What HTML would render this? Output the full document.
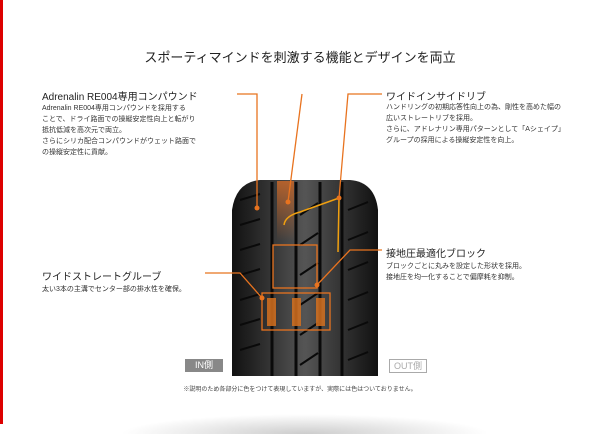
<!DOCTYPE html>
<html><head><meta charset="utf-8"><style>
body{margin:0;width:600px;height:424px;background:#fff;position:relative;overflow:hidden;font-family:"Liberation Sans","Noto Sans CJK JP",sans-serif;color:#333}
.t{position:absolute;white-space:nowrap}
h1{position:absolute;left:0;width:600px;top:47px;margin:0;text-align:center;font-size:13px;font-weight:normal;color:#222}
.hd{font-size:10px;color:#222}
.bd{font-size:7px;line-height:11px;color:#333}
</style></head><body>
<div style="position:absolute;left:0;top:0;width:3px;height:424px;background:#d00"></div>
<h1>スポーティマインドを刺激する機能とデザインを両立</h1>
<div class="t hd" style="left:42px;top:88px">Adrenalin RE004専用コンパウンド</div>
<div class="t bd" style="left:42px;top:103px">Adrenalin RE004専用コンパウンドを採用する<br>ことで、ドライ路面での操縦安定性向上と転がり<br>抵抗低減を高次元で両立。<br>さらにシリカ配合コンパウンドがウェット路面で<br>の操縦安定性に貢献。</div>
<div class="t hd" style="left:386px;top:88px">ワイドインサイドリブ</div>
<div class="t bd" style="left:386px;top:102px">ハンドリングの初期応答性向上の為、剛性を高めた幅の<br>広いストレートリブを採用。<br>さらに、アドレナリン専用パターンとして「Aシェイプ」<br>グループの採用による操縦安定性を向上。</div>
<div class="t hd" style="left:386px;top:245px">接地圧最適化ブロック</div>
<div class="t bd" style="left:386px;top:261px">ブロックごとに丸みを設定した形状を採用。<br>接地圧を均一化することで偏摩耗を抑制。</div>
<div class="t hd" style="left:42px;top:268px">ワイドストレートグルーブ</div>
<div class="t bd" style="left:42px;top:284px">太い3本の主溝でセンター部の排水性を確保。</div>
<div class="t" style="left:185px;top:359px;width:38px;height:13px;background:#888;color:#fff;font-size:9px;line-height:13px;text-align:center">IN側</div>
<div class="t" style="left:389px;top:359px;width:36px;height:12px;border:1px solid #aaa;color:#aaa;font-size:9px;line-height:12px;text-align:center">OUT側</div>
<div class="t" style="left:0;width:600px;top:384px;text-align:center;font-size:6px;color:#444">※説明のため各部分に色をつけて表現していますが、実際には色はついておりません。</div>
<div style="position:absolute;left:120px;top:414px;width:370px;height:20px;background:radial-gradient(ellipse at 50% 100%,#ccc,#fff 70%)"></div>
<svg width="600" height="424" style="position:absolute;left:0;top:0">
<defs><linearGradient id="g" x1="0" x2="1"><stop offset="0" stop-color="#111"/><stop offset=".5" stop-color="#555"/><stop offset="1" stop-color="#111"/></linearGradient>
<linearGradient id="o" x1="0" y1="0" x2="0" y2="1"><stop offset="0" stop-color="#c0652a"/><stop offset="1" stop-color="#c0652a" stop-opacity="0"/></linearGradient></defs>
<path d="M232 376 L232 210 Q236 182 260 180 L350 180 Q375 182 378 210 L378 376 Z" fill="url(#g)"/>
<rect x="277" y="181" width="17" height="60" fill="url(#o)" opacity=".9"/>
<g stroke="#0a0a0a" stroke-width="3">
<line x1="272" y1="182" x2="272" y2="376"/><line x1="296" y1="182" x2="296" y2="376"/><line x1="320" y1="182" x2="320" y2="376"/><line x1="342" y1="182" x2="342" y2="376"/></g>
<g stroke="#0a0a0a" stroke-width="2" fill="none">
<path d="M240 200 l20 -6 M240 225 l20 -6 M240 250 l20 -6 M240 275 l20 -6 M240 300 l20 -6 M240 325 l20 -6 M240 350 l20 -6"/>
<path d="M300 215 l18 -12 M300 245 l18 -12 M300 275 l18 -12 M300 305 l18 -12 M300 335 l18 -12 M300 365 l18 -12"/>
<path d="M348 210 l20 -8 M348 240 l20 -8 M348 270 l20 -8 M348 300 l20 -8 M348 330 l20 -8 M348 360 l20 -8"/></g>
<g fill="#d4701f" opacity=".85"><rect x="267" y="298" width="9" height="28"/><rect x="292" y="298" width="9" height="28"/><rect x="316" y="298" width="9" height="28"/></g>
<g stroke="#e8731f" stroke-width="1.3" fill="none">
<polyline points="237,94 257,94 257,208"/>
<polyline points="302,94 288,202"/>
<polyline points="382,94 348,94 339,198"/>
<polyline points="382,250 350,250 317,285"/>
<polyline points="205,273 240,273 262,298"/>
<rect x="273" y="245" width="44" height="43"/>
<rect x="262" y="293" width="68" height="37"/></g>
<g stroke="#f0a010" stroke-width="1.5" fill="none"><path d="M284 225 Q285 216 300 212 L339 198 L338 252"/></g>
<g fill="#e8731f"><circle cx="257" cy="208" r="2.5"/><circle cx="288" cy="202" r="2.5"/><circle cx="339" cy="198" r="2.5"/><circle cx="317" cy="285" r="2.5"/><circle cx="262" cy="298" r="2.5"/></g>
</svg>
</body></html>
